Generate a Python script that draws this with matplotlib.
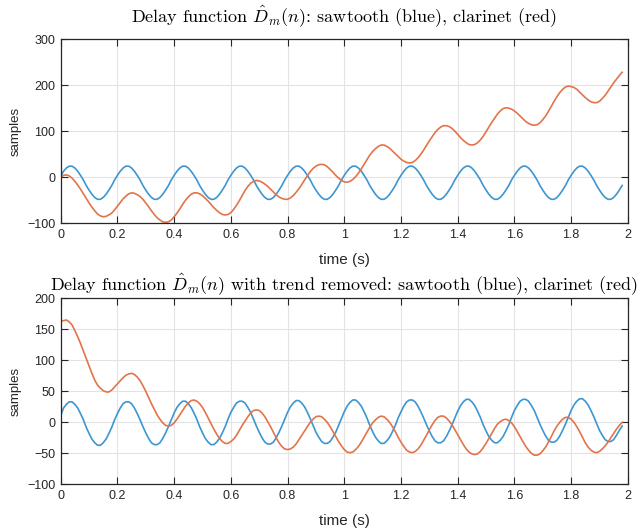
import numpy as np
import matplotlib
matplotlib.use("Agg")
import matplotlib.pyplot as plt

plt.rcParams['font.family'] = ['Liberation Sans', 'DejaVu Sans']
plt.rcParams['mathtext.fontset'] = 'cm'

# frame times, one sample every 10 ms
t = np.arange(199) * 0.01

# raw delay estimate D_m(n)
saw_raw = [
    2, 13, 20, 24, 24, 20, 13, 4, -6, -18, -28, -37, -44, -48, -48, -44, -37, -28, -18, -6,
    4, 13, 20, 24, 24, 20, 13, 4, -6, -18, -28, -37, -44, -48, -48, -44, -37, -28, -18, -6,
    4, 13, 20, 24, 24, 20, 13, 4, -6, -18, -28, -37, -44, -48, -48, -44, -37, -28, -18, -6,
    4, 13, 20, 24, 24, 20, 13, 4, -6, -18, -28, -37, -44, -48, -48, -44, -37, -28, -18, -6,
    4, 13, 20, 24, 24, 20, 13, 4, -6, -18, -28, -37, -44, -48, -48, -44, -37, -28, -18, -6,
    4, 13, 20, 24, 24, 20, 13, 4, -6, -18, -28, -37, -44, -48, -48, -44, -37, -28, -18, -6,
    4, 13, 20, 24, 24, 20, 13, 4, -6, -18, -28, -37, -44, -48, -48, -44, -37, -28, -18, -6,
    4, 13, 20, 24, 24, 20, 13, 4, -6, -18, -28, -37, -44, -48, -48, -44, -37, -28, -18, -6,
    4, 13, 20, 24, 24, 20, 13, 4, -6, -18, -28, -37, -44, -48, -48, -44, -37, -28, -18, -6,
    4, 13, 20, 24, 24, 20, 13, 4, -6, -18, -28, -37, -44, -48, -48, -44, -37, -28, -18,
]
clar_raw = [
    0, 4, 5, 3, -2, -9, -17, -26, -36, -46,
    -56, -65, -73, -80, -84, -86, -85, -82, -78, -71,
    -63, -55, -47, -41, -36, -34, -35, -38, -42, -48,
    -56, -64, -73, -81, -88, -93, -97, -98, -97, -93,
    -86, -78, -69, -59, -50, -43, -37, -34, -34, -36,
    -40, -46, -52, -59, -66, -72, -77, -81, -82, -81,
    -77, -70, -61, -51, -40, -29, -20, -13, -9, -7,
    -8, -11, -15, -20, -26, -32, -38, -43, -46, -48,
    -48, -45, -40, -33, -25, -16, -6, 3, 12, 19,
    24, 27, 28, 27, 23, 17, 11, 4, -2, -7,
    -10, -11, -9, -5, 1, 9, 18, 28, 38, 48,
    56, 62, 67, 70, 70, 67, 63, 57, 51, 45,
    39, 35, 32, 31, 32, 36, 42, 50, 59, 69,
    79, 88, 97, 104, 109, 112, 112, 110, 106, 100,
    93, 86, 80, 75, 71, 70, 71, 75, 81, 89,
    99, 109, 119, 128, 137, 144, 149, 151, 150, 148,
    144, 139, 133, 127, 121, 117, 114, 113, 114, 118,
    125, 133, 143, 154, 165, 175, 184, 191, 196, 198,
    197, 195, 191, 185, 179, 173, 168, 164, 162, 162,
    165, 171, 178, 187, 196, 205, 213, 221, 228,
]

# same estimates after the linear trend is taken out
saw_detr = [
    11, 23, 29, 33, 33, 29, 23, 14, 4, -8, -18, -27, -33, -37, -37, -33, -27, -18, -8, 4,
    14, 23, 30, 33, 33, 30, 23, 14, 4, -7, -17, -26, -33, -36, -36, -33, -26, -17, -7, 4,
    15, 24, 30, 34, 34, 30, 24, 15, 5, -7, -17, -26, -32, -36, -36, -32, -26, -17, -7, 5,
    16, 24, 31, 34, 34, 31, 24, 16, 5, -6, -16, -25, -32, -35, -35, -32, -25, -16, -6, 5,
    16, 25, 31, 35, 35, 31, 25, 16, 6, -5, -16, -24, -31, -34, -34, -31, -24, -16, -5, 6,
    17, 26, 32, 36, 36, 32, 26, 17, 7, -5, -15, -24, -30, -34, -34, -30, -24, -15, -5, 7,
    17, 26, 33, 36, 36, 33, 26, 17, 7, -4, -14, -23, -30, -33, -33, -30, -23, -14, -4, 7,
    18, 27, 33, 37, 37, 33, 27, 18, 8, -4, -14, -23, -29, -33, -33, -29, -23, -14, -4, 8,
    19, 27, 34, 37, 37, 34, 27, 19, 8, -3, -13, -22, -29, -32, -32, -29, -22, -13, -3, 8,
    19, 28, 34, 38, 38, 34, 28, 19, 9, -2, -13, -21, -28, -31, -31, -28, -21, -13, -6,
]
clar_detr = [
    163, 164, 165, 162, 157, 148, 138, 127, 115, 103,
    91, 79, 68, 60, 55, 51, 49, 49, 52, 57,
    62, 67, 72, 76, 78, 79, 77, 73, 67, 59,
    50, 40, 30, 21, 12, 5, -1, -5, -6, -5,
    -1, 5, 12, 19, 26, 31, 35, 36, 34, 30,
    24, 16, 7, -2, -11, -19, -26, -31, -34, -34,
    -31, -27, -21, -13, -5, 2, 9, 15, 19, 20,
    19, 15, 9, 1, -7, -16, -25, -33, -39, -43,
    -44, -43, -40, -35, -28, -21, -14, -7, 0, 5,
    9, 10, 9, 5, 0, -7, -15, -23, -31, -38,
    -44, -48, -49, -48, -44, -39, -32, -24, -16, -8,
    -1, 4, 8, 10, 9, 5, 0, -7, -15, -24,
    -32, -39, -45, -48, -49, -47, -43, -37, -29, -21,
    -12, -4, 3, 8, 10, 10, 7, 2, -4, -12,
    -20, -28, -36, -43, -48, -51, -52, -51, -47, -41,
    -34, -26, -18, -10, -3, 1, 4, 5, 3, -1,
    -7, -15, -23, -31, -39, -45, -50, -53, -53, -51,
    -46, -40, -32, -23, -14, -6, 0, 5, 8, 8,
    5, 0, -7, -15, -24, -33, -40, -45, -48, -49,
    -47, -43, -38, -32, -25, -18, -11, -5, 0,
]

blue = '#3C96D2'
orange = '#E2744A'

fig = plt.figure(figsize=(6.43, 5.29), dpi=100)
ax1 = fig.add_axes([0.0944, 0.578, 0.882, 0.348])
ax2 = fig.add_axes([0.0944, 0.0845, 0.882, 0.3516])


def style(ax, ylim, yticks):
    ax.set_xlim(0, 2)
    ax.set_ylim(*ylim)
    ax.set_xticks(np.arange(0, 2.01, 0.2))
    ax.set_xticklabels(['0', '0.2', '0.4', '0.6', '0.8', '1',
                        '1.2', '1.4', '1.6', '1.8', '2'])
    ax.set_yticks(yticks)
    ax.grid(True, color='#e3e3e3', linewidth=0.8)
    ax.set_axisbelow(True)
    ax.tick_params(direction='in', length=5, width=0.8, top=True, right=True,
                   labelsize=9, colors='#262626', pad=4)
    for sp in ax.spines.values():
        sp.set_color('#262626')
        sp.set_linewidth(0.9)
    ax.set_xlabel('time (s)', fontsize=11, color='#262626', labelpad=9)
    ax.set_ylabel('samples', fontsize=9.5, color='#262626', labelpad=4)


ax1.plot(t, saw_raw, color=blue, linewidth=1.2)
ax1.plot(t, clar_raw, color=orange, linewidth=1.2)
style(ax1, (-100, 300), [-100, 0, 100, 200, 300])
ax1.set_title(r'Delay function $\hat{D}_m(n)$: sawtooth (blue), clarinet (red)',
              fontfamily='cmr10', fontsize=13, pad=12)

ax2.plot(t, saw_detr, color=blue, linewidth=1.2)
ax2.plot(t, clar_detr, color=orange, linewidth=1.2)
style(ax2, (-100, 200), [-100, -50, 0, 50, 100, 150, 200])
ax2.set_title(r'Delay function $\hat{D}_m(n)$ with trend removed: sawtooth (blue), clarinet (red)',
              fontfamily='cmr10', fontsize=13, pad=6)

fig.savefig('out.png', dpi=100)
